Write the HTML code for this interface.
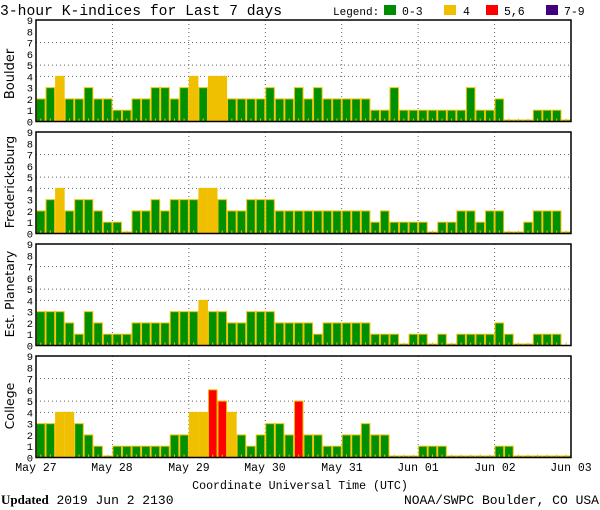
<!DOCTYPE html>
<html><head><meta charset="utf-8"><style>
html,body{margin:0;padding:0;background:#fff}
svg{display:block}
text{font-family:"Liberation Mono",monospace;fill:#000}
text.v{font-family:"DejaVu Sans","Liberation Sans",sans-serif}
</style></head><body>
<svg id="s" width="600" height="510" viewBox="0 0 600 510" xmlns="http://www.w3.org/2000/svg" xml:space="preserve">
<rect width="600" height="510" fill="#fff"/>
<text x="0" y="15" font-size="14.7">3-hour K-indices for Last 7 days</text>
<text x="333" y="15" font-size="11">Legend:</text>
<rect x="384" y="5" width="12" height="10" fill="#008c00"/><text x="402" y="15" font-size="11.5">0-3</text>
<rect x="444" y="5" width="12" height="10" fill="#f0c000"/><text x="463" y="15" font-size="11.5">4</text>
<rect x="486" y="5" width="12" height="10" fill="#ff0000"/><text x="504" y="15" font-size="11.5">5,6</text>
<rect x="546" y="5" width="12" height="10" fill="#400080"/><text x="564" y="15" font-size="11.5">7-9</text>
<text class="v" transform="translate(14,74) rotate(-90)" text-anchor="middle" font-size="13">Boulder</text>
<text class="v" transform="translate(14,182) rotate(-90)" text-anchor="middle" font-size="12.5">Fredericksburg</text>
<text class="v" transform="translate(14,294) rotate(-90)" text-anchor="middle" font-size="12.5">Est. Planetary</text>
<text class="v" transform="translate(14,406) rotate(-90)" text-anchor="middle" font-size="12.5">College</text>
<g id="g"></g>
<g font-size="11.5" text-anchor="middle">
<text x="36" y="471">May 27</text><text x="112" y="471">May 28</text><text x="189" y="471">May 29</text>
<text x="265" y="471">May 30</text><text x="342" y="471">May 31</text><text x="418" y="471">Jun 01</text>
<text x="495" y="471">Jun 02</text><text x="571" y="471">Jun 03</text>
</g>
<text x="300" y="489" font-size="11.6" text-anchor="middle">Coordinate Universal Time (UTC)</text>
<text x="1" y="504" font-size="13"><tspan font-weight="bold" style="font-family:'Liberation Serif',serif">Updated</tspan> 2019 Jun  2 2130</text>
<text x="599" y="504" font-size="13" text-anchor="end">NOAA/SWPC Boulder, CO USA</text>
</svg>
<script>
var D=[
[2,3,4,2,2,3,2,2, 1,1,2,2,3,3,2,3, 4,3,4,4,2,2,2,2, 3,2,2,3,2,3,2,2, 2,2,2,1,1,3,1,1, 1,1,1,1,1,3,1,1, 2,0,0,0,1,1,1,0],
[2,3,4,2,3,3,2,1, 1,0,2,2,3,2,3,3, 3,4,4,3,2,2,3,3, 3,2,2,2,2,2,2,2, 2,2,2,1,2,1,1,1, 1,0,1,1,2,2,1,2, 2,0,0,1,2,2,2,0],
[3,3,3,2,1,3,2,1, 1,1,2,2,2,2,3,3, 3,4,3,3,2,2,3,3, 3,2,2,2,2,1,2,2, 2,2,2,1,1,1,0,1, 1,0,1,0,1,1,1,1, 2,1,0,0,1,1,1,-1],
[3,3,4,4,3,2,1,0, 1,1,1,1,1,1,2,2, 4,4,6,5,4,2,1,2, 3,3,2,5,2,2,1,1, 2,2,3,2,2,0,0,0, 1,1,1,0,0,0,0,0, 1,1,0,0,0,0,0,0]];
var tops=[20,132,244,356],H=101.5,X0=36,W=535,bw=W/56,u=H/9,h='';
for(var p=0;p<4;p++){var t=tops[p],b=t+H;
 h+='<rect x="'+X0+'" y="'+t+'" width="'+W+'" height="'+H+'" fill="#fff"/>';
 [4,5,7].forEach(function(k){var y=b-k*u;h+='<line x1="'+X0+'" x2="'+(X0+W)+'" y1="'+y+'" y2="'+y+'" stroke="#666" stroke-dasharray="1,3"/>';});
 for(var d=1;d<7;d++){var x=X0+d*W/7;h+='<line x1="'+x+'" x2="'+x+'" y1="'+t+'" y2="'+b+'" stroke="#666" stroke-dasharray="1,3"/>';}
 for(var i=0;i<56;i++){var v=D[p][i],x=X0+i*bw;
  if(v>=0){var c=v<=3?'#009000':v==4?'#f0c000':v<=6?'#ff0000':'#400080';var hh=v==0?1.5:v*u;
   h+='<rect x="'+(x+0.5)+'" y="'+(b-hh)+'" width="'+(bw-1)+'" height="'+hh+'" fill="'+c+'" stroke="#f0c000" stroke-width="1"/>';}
  h+='<line x1="'+(x+bw/2)+'" x2="'+(x+bw/2)+'" y1="'+b+'" y2="'+(b-3)+'" stroke="#f0c000"/>';}
 h+='<rect x="'+X0+'" y="'+t+'" width="'+W+'" height="'+H+'" fill="none" stroke="#000" stroke-width="1.5"/>';
 for(var k=0;k<=9;k++)h+='<text x="33" y="'+(b-k*u+4)+'" font-size="10.5" text-anchor="end">'+k+'</text>';
}
document.getElementById('g').innerHTML=h;
</script>
</body></html>
